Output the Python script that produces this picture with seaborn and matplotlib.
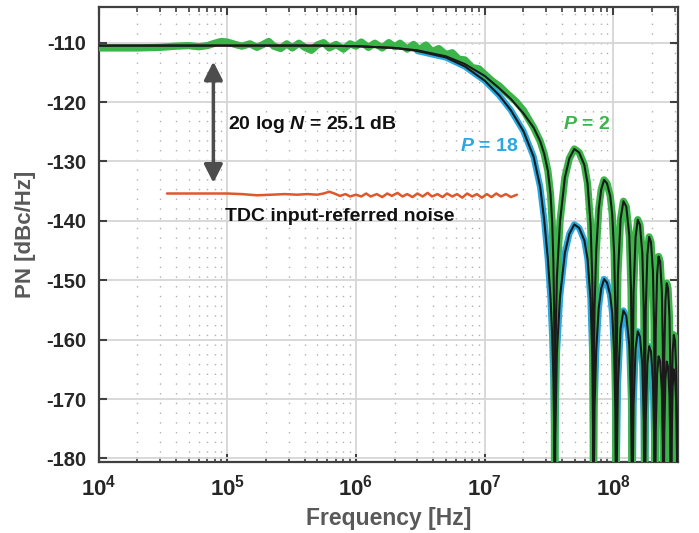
import numpy as np
import pandas as pd
import matplotlib
matplotlib.use("Agg")
import matplotlib.pyplot as plt
import seaborn as sns
from matplotlib.ticker import LogLocator, FixedLocator, NullFormatter, FixedFormatter

# ---------------- data ----------------
# model (black) curves: main lobe, frequencies in Hz
main_f_hz = [1e4, 1e5, 5e5, 1e6, 2e6, 3e6, 5e6, 7e6, 1e7, 1.3e7, 1.6e7, 2.0e7,
             2.4e7, 2.7e7, 2.9e7, 3.1e7, 3.25e7, 3.35e7, 3.42e7, 3.47e7, 3.5e7]
green_main_db = [-110.5, -110.5, -110.5, -110.6, -110.9, -111.3, -112.3, -113.6, -115.6, -117.7,
                 -119.5, -121.9, -124.3, -126.6, -128.7, -131.6, -135.5, -140.5, -147.0, -156.0, -200.0]
blue_main_db = [-110.5, -110.5, -110.5, -110.6, -110.9, -111.4, -112.5, -114.0, -116.4, -118.9,
                -121.4, -124.9, -129.2, -134.3, -139.8, -146.5, -153.0, -159.5, -166.5, -175.0, -200.0]

# side lobes, frequencies in MHz
lobe_f_mhz = [35.35, 36.4, 38.5, 42.0, 45.5, 49.7, 54.25, 59.5, 63.0, 66.5, 68.6, 69.65, 70.0,
              70.35, 71.4, 73.5, 77.0, 80.5, 84.7, 89.25, 94.5, 98.0, 101.5, 103.6, 104.65, 105.0,
              105.7, 108.5, 113.75, 119.7, 126.0, 133.0, 137.2, 139.3, 140.0,
              140.7, 143.5, 148.75, 154.7, 161.0, 168.0, 172.2, 174.3, 175.0,
              175.7, 178.5, 183.75, 189.7, 196.0, 203.0, 207.2, 209.3, 210.0,
              210.7, 213.5, 218.75, 224.7, 231.0, 238.0, 242.2, 244.3, 245.0,
              245.7, 248.5, 253.75, 259.7, 266.0, 273.0, 277.2, 279.3, 280.0,
              280.7, 283.5, 288.75, 294.7, 301.0, 308.0, 312.2, 314.3, 315.0]
green_lobe_db = [-163.9, -149.5, -140.1, -132.7, -129.5, -127.9, -128.5, -130.6, -133.7, -140.5, -149.9, -164.4, -200.0,
                 -169.1, -154.7, -145.3, -137.9, -134.7, -133.1, -133.7, -135.8, -138.9, -145.7, -155.1, -169.6, -200.0,
                 -165.7, -149.0, -139.7, -136.7, -137.6, -142.5, -151.7, -166.2, -200.0,
                 -168.8, -152.1, -142.8, -139.8, -140.7, -145.6, -154.8, -169.3, -200.0,
                 -171.7, -155.0, -145.7, -142.7, -143.6, -148.5, -157.7, -172.2, -200.0,
                 -175.0, -158.3, -149.0, -146.0, -146.9, -151.8, -161.0, -175.5, -200.0,
                 -179.5, -162.8, -153.5, -150.5, -151.4, -156.3, -165.5, -180.0, -200.0,
                 -188.2, -171.5, -162.2, -159.2, -160.1, -165.0, -174.2, -188.7, -200.0]
blue_lobe_db = [-176.6, -162.2, -152.8, -145.4, -142.2, -140.6, -141.2, -143.3, -146.4, -153.2, -162.6, -177.1, -200.0,
                -185.8, -171.4, -162.0, -154.6, -151.4, -149.8, -150.4, -152.5, -155.6, -162.4, -171.8, -186.3, -200.0,
                -184.1, -167.4, -158.1, -155.1, -156.0, -160.9, -170.1, -184.6, -200.0,
                -187.6, -170.9, -161.6, -158.6, -159.5, -164.4, -173.6, -188.1, -200.0,
                -190.1, -173.4, -164.1, -161.1, -162.0, -166.9, -176.1, -190.6, -200.0,
                -191.8, -175.1, -165.8, -162.8, -163.7, -168.6, -177.8, -192.3, -200.0,
                -192.7, -176.0, -166.7, -163.7, -164.6, -169.5, -178.7, -193.2, -200.0,
                -194.0, -177.3, -168.0, -165.0, -165.9, -170.8, -180.0, -194.5, -200.0]

# measured P = 2 (green) in the flat / roll-off region
green_meas_f_hz = [1e4, 2e4, 3e4, 4e4, 5e4, 6e4, 7e4, 8e4, 9e4, 1.0e5, 1.15e5, 1.3e5, 1.5e5, 1.7e5,
                   1.9e5, 2.1e5, 2.3e5, 2.6e5, 2.9e5, 3.2e5, 3.6e5, 4e5, 4.5e5, 5e5, 5.6e5, 6.2e5,
                   7e5, 8e5, 9e5, 1e6, 1.1e6, 1.25e6, 1.4e6, 1.6e6, 1.8e6, 2.0e6, 2.2e6, 2.5e6,
                   2.8e6, 3.1e6, 3.5e6, 3.9e6, 4.4e6, 5e6, 5.6e6, 6.3e6, 7e6, 8e6, 9e6, 1e7,
                   1.15e7, 1.3e7, 1.5e7, 1.75e7, 2.0e7]
green_meas_db = [-110.9, -110.9, -110.8, -110.6, -110.5, -110.7, -110.5, -110.1, -109.8, -109.9, -110.3,
                 -110.6, -110.2, -110.8, -110.3, -109.8, -110.6, -111.0, -110.2, -110.9, -110.1, -110.8,
                 -111.3, -110.4, -110.0, -110.9, -110.3, -111.1, -110.2, -110.6, -109.9, -110.8, -110.1,
                 -110.9, -110.0, -110.7, -110.1, -111.1, -110.3, -111.2, -110.4, -111.5, -111.0, -112.0,
                 -111.7, -112.8, -112.9, -114.2, -114.4, -115.3, -116.5, -117.3, -118.6, -119.9, -121.4]

# TDC input-referred noise (orange)
tdc_f_hz = [3.4e4, 5e4, 7e4, 1e5, 1.3e5, 1.7e5, 2.2e5, 2.8e5, 3.5e5, 4.2e5, 5e5, 5.6e5, 6.2e5, 6.8e5,
            7.5e5, 8.3e5, 9e5, 1.0e6, 1.1e6, 1.2e6, 1.3e6, 1.45e6, 1.6e6, 1.75e6, 1.9e6, 2.1e6, 2.3e6,
            2.5e6, 2.75e6, 3.0e6, 3.3e6, 3.6e6, 3.9e6, 4.3e6, 4.7e6, 5.1e6, 5.6e6, 6.1e6, 6.7e6, 7.3e6,
            8e6, 8.7e6, 9.5e6, 1.04e7, 1.13e7, 1.23e7, 1.34e7, 1.46e7, 1.6e7, 1.78e7]
tdc_db = [-135.4, -135.4, -135.4, -135.4, -135.5, -135.7, -135.6, -135.5, -135.6, -135.5, -135.6, -135.4,
          -135.1, -135.4, -135.8, -135.5, -135.9, -135.6, -135.9, -135.4, -135.9, -135.5, -136.0, -135.4,
          -135.8, -135.3, -135.9, -135.5, -136.0, -135.4, -135.9, -135.3, -135.9, -135.5, -136.0, -135.4,
          -135.9, -135.5, -136.1, -135.4, -135.9, -135.5, -136.1, -135.5, -136.0, -135.4, -135.9, -135.5,
          -136.0, -135.6]

x_tick_values = [1e4, 1e5, 1e6, 1e7, 1e8]
x_tick_labels = [r"$\mathregular{10^{4}}$", r"$\mathregular{10^{5}}$", r"$\mathregular{10^{6}}$",
                 r"$\mathregular{10^{7}}$", r"$\mathregular{10^{8}}$"]
y_tick_values = [-110, -120, -130, -140, -150, -160, -170, -180]

# ---------------- build tables ----------------
lobe_f_hz = [v * 1e6 for v in lobe_f_mhz]
model = pd.DataFrame({
    "f": main_f_hz + lobe_f_hz,
    "green": green_main_db + green_lobe_db,
    "blue": blue_main_db + blue_lobe_db,
})
rest = model[model["f"] > 2.0e7]
green_band = pd.DataFrame({
    "f": green_meas_f_hz + list(rest["f"]),
    "db": green_meas_db + list(rest["green"]),
})
blue_band = model[model["f"] >= 3e6][["f", "blue"]].rename(columns={"blue": "db"})
tdc = pd.DataFrame({"f": tdc_f_hz, "db": tdc_db})

# ---------------- style ----------------
sns.set_theme(style="white")
FONT = ['Liberation Sans', 'DejaVu Sans']
plt.rcParams['font.family'] = FONT
plt.rcParams['font.weight'] = 'bold'
plt.rcParams['mathtext.fontset'] = 'custom'
plt.rcParams['mathtext.rm'] = 'Liberation Sans:bold'
plt.rcParams['mathtext.it'] = 'Liberation Sans:italic:bold'
plt.rcParams['mathtext.bf'] = 'Liberation Sans:bold'

C_GREEN = '#3bb54a'
C_BLUE = '#2aa8e0'
C_BLACK = '#1a1a1a'
C_ORANGE = '#e0572a'
C_AX = '#404040'

fig = plt.figure(figsize=(6.99, 5.33), dpi=100)
ax = fig.add_axes([0.141, 0.1332, 0.829, 0.8537])

kw = dict(estimator=None, sort=False, legend=False, ax=ax)
sns.lineplot(data=blue_band, x="f", y="db", color=C_BLUE, lw=4.6, zorder=2, **kw)
sns.lineplot(data=green_band, x="f", y="db", color=C_GREEN, lw=5.2, zorder=3, **kw)
sns.lineplot(data=tdc, x="f", y="db", color=C_ORANGE, lw=1.8, zorder=3, **kw)
sns.lineplot(data=model, x="f", y="blue", color=C_BLACK, lw=1.5, zorder=4, **kw)
sns.lineplot(data=model, x="f", y="green", color=C_BLACK, lw=1.5, zorder=4, **kw)

ax.set_xscale('log')
ax.set_xlim(1e4, 3.18e8)
ax.set_ylim(-180.6, -104.0)

ax.xaxis.set_major_locator(FixedLocator(x_tick_values))
ax.xaxis.set_major_formatter(FixedFormatter(x_tick_labels))
ax.xaxis.set_minor_locator(LogLocator(base=10, subs=range(2, 10), numticks=50))
ax.xaxis.set_minor_formatter(NullFormatter())
ax.yaxis.set_major_locator(FixedLocator(y_tick_values))
ax.set_yticklabels([str(v) for v in y_tick_values])

ax.grid(False)
ax.xaxis.grid(True, which='major', color='#d6d6d6', lw=1.3, ls='-', zorder=0)
ax.yaxis.grid(True, which='major', color='#d6d6d6', lw=1.3, ls='-', zorder=0)
ax.xaxis.grid(True, which='minor', color='#b0b0b0', lw=1.0, ls=(0, (1, 6)), zorder=0)
ax.set_axisbelow(True)

for s in ax.spines.values():
    s.set_color(C_AX)
    s.set_linewidth(1.6)
    s.set_visible(True)

ax.tick_params(axis='both', which='major', direction='in', length=6, width=1.5, color=C_AX,
               top=True, right=True, bottom=True, left=True, labelcolor='#262626')
ax.tick_params(axis='x', which='minor', direction='in', length=3.5, width=1.2, color=C_AX,
               top=True, bottom=True)
ax.tick_params(axis='x', which='major', labelsize=16, pad=9)
ax.tick_params(axis='y', which='major', labelsize=14.5, pad=9)

ax.set_xlabel("Frequency [Hz]", fontsize=16.5, fontweight='bold', color='#595959', labelpad=5)
ax.set_ylabel("PN [dBc/Hz]", fontsize=16, fontweight='bold', color='#595959', labelpad=7)

# annotations
ax.annotate("", xy=(7.8e4, -113.2), xytext=(7.8e4, -133.6),
            arrowprops=dict(arrowstyle='<|-|>,head_length=0.55,head_width=0.28', mutation_scale=20,
                            lw=2.5, color='#4d4d4d', shrinkA=0, shrinkB=0), zorder=5)
ax.text(1.01e5, -123.8, r"20 log $\mathit{N}$ = 25.1 dB", fontsize=14, fontweight='bold',
        color='#111111', va='center', ha='left', zorder=6)
ax.text(9.6e4, -139.3, "TDC input-referred noise", fontsize=14, fontweight='bold',
        color='#111111', va='center', ha='left', zorder=6)
ax.text(6.44e6, -127.5, r"$\mathit{P}$ = 18", fontsize=14, fontweight='bold',
        color=C_BLUE, va='center', ha='left', zorder=6)
ax.text(4.06e7, -123.8, r"$\mathit{P}$ = 2", fontsize=14, fontweight='bold',
        color=C_GREEN, va='center', ha='left', zorder=6)

fig.savefig("out.png", dpi=100)
